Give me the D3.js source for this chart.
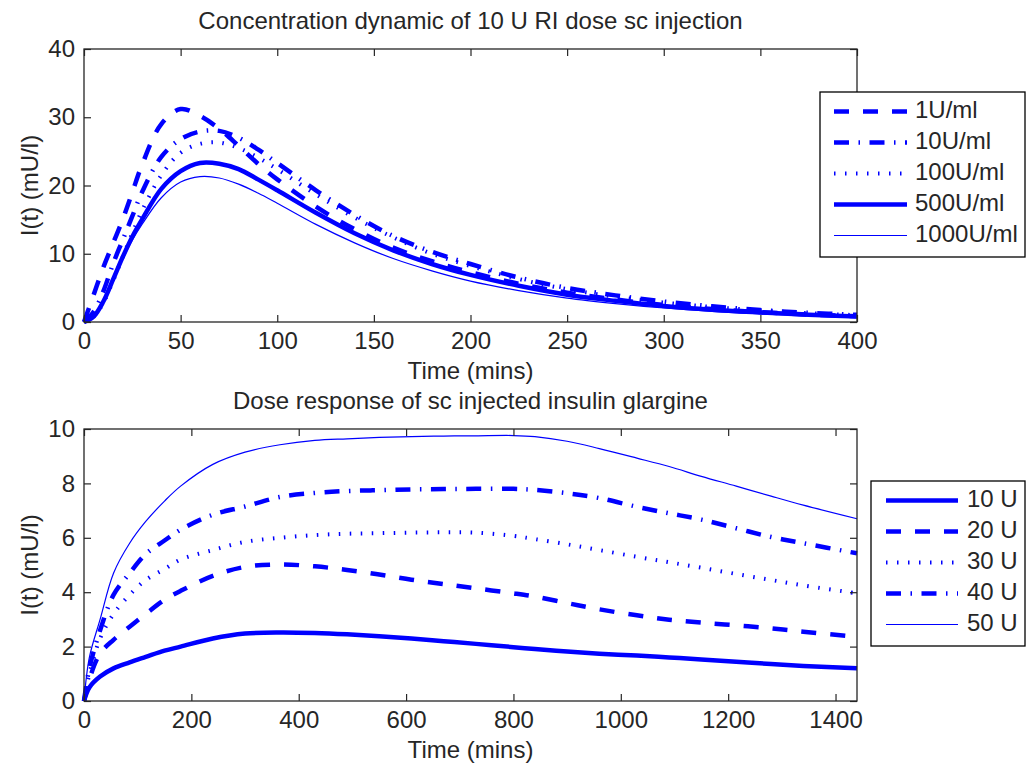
<!DOCTYPE html>
<html>
<head>
<meta charset="utf-8">
<script src="https://cdn.jsdelivr.net/npm/d3@7"></script>
<style>
  body { margin: 0; background: #fff; }
  text { font-family: "Liberation Sans", Arial, sans-serif; fill: #262626; }
</style>
</head>
<body>
<div id="chart"></div>
<script>
// top panel: 10 U regular insulin at different concentrations
const riTimes = [0, 5, 10, 15, 20, 25, 30, 40, 50, 60, 70, 80, 90, 100, 120, 140, 160, 180, 200, 225, 250, 275, 300, 325, 350, 375, 400];
const ri1 = [0, 4, 8, 11.5, 15, 19, 23, 29, 31.2, 30.2, 28.3, 25.8, 23.2, 20.9, 16.9, 13.6, 10.9, 8.9, 7.3, 5.6, 4.3, 3.3, 2.5, 1.9, 1.45, 1.1, 0.85];
const ri10 = [0, 1.5, 4.5, 8.5, 12, 15.5, 19, 24.2, 26.8, 27.9, 28.0, 27.0, 25.3, 23.3, 19.3, 15.7, 12.6, 10.3, 8.5, 6.5, 5.0, 3.9, 3.0, 2.3, 1.75, 1.35, 1.05];
const ri100 = [0, 0.8, 2.8, 6, 9.5, 13, 16.3, 21.5, 24.8, 26.1, 26.3, 25.5, 24.1, 22.4, 18.7, 15.3, 12.4, 10, 8.2, 6.3, 4.8, 3.7, 2.85, 2.2, 1.7, 1.3, 1.0];
const ri500 = [0, 0.8, 3, 6.2, 9.5, 12.5, 15, 19.5, 22.1, 23.3, 23.2, 22.4, 20.9, 19.3, 16, 13, 10.5, 8.5, 6.9, 5.3, 4.0, 3.1, 2.35, 1.8, 1.4, 1.05, 0.8];
const ri1000 = [0, 0.7, 2.8, 6, 9.2, 12, 14.3, 18.2, 20.5, 21.3, 21.1, 20.2, 18.9, 17.4, 14.3, 11.6, 9.3, 7.5, 6.0, 4.6, 3.5, 2.7, 2.05, 1.55, 1.2, 0.9, 0.7];
const riNames = ["1U/ml", "10U/ml", "100U/ml", "500U/ml", "1000U/ml"];
const riTicksX = [0, 50, 100, 150, 200, 250, 300, 350, 400];
const riTicksY = [0, 10, 20, 30, 40];

// bottom panel: glargine doses
const glTimes = [0, 10, 30, 55, 85, 115, 150, 180, 240, 300, 365, 430, 490, 550, 610, 670, 730, 800, 840, 900, 960, 1030, 1090, 1150, 1215, 1280, 1340, 1440];
const gl10 = [0, 0.5, 0.9, 1.2, 1.42, 1.62, 1.85, 2.0, 2.3, 2.48, 2.52, 2.5, 2.45, 2.38, 2.3, 2.2, 2.1, 1.98, 1.91, 1.82, 1.74, 1.67, 1.6, 1.53, 1.44, 1.36, 1.29, 1.2];
const gl20 = [0, 0.8, 1.75, 2.25, 2.73, 3.2, 3.72, 4.05, 4.6, 4.93, 5.02, 4.95, 4.82, 4.65, 4.46, 4.3, 4.14, 3.96, 3.84, 3.6, 3.37, 3.15, 2.99, 2.88, 2.78, 2.67, 2.55, 2.36];
const gl30 = [0, 1.0, 2.3, 3.2, 3.9, 4.45, 4.85, 5.2, 5.55, 5.85, 6.0, 6.1, 6.15, 6.17, 6.19, 6.2, 6.19, 6.07, 5.95, 5.76, 5.55, 5.3, 5.1, 4.9, 4.67, 4.45, 4.25, 3.96];
const gl40 = [0, 1.2, 2.6, 3.9, 4.7, 5.4, 5.9, 6.3, 6.85, 7.15, 7.5, 7.65, 7.72, 7.75, 7.78, 7.79, 7.8, 7.8, 7.76, 7.64, 7.46, 7.14, 6.9, 6.67, 6.35, 6.03, 5.8, 5.43];
const gl50 = [0, 1.6, 3.0, 4.7, 5.8, 6.6, 7.35, 7.9, 8.7, 9.15, 9.42, 9.58, 9.64, 9.69, 9.72, 9.74, 9.75, 9.76, 9.72, 9.55, 9.28, 8.93, 8.62, 8.26, 7.9, 7.53, 7.2, 6.7];
const glNames = ["10 U", "20 U", "30 U", "40 U", "50 U"];
const glTicksX = [0, 200, 400, 600, 800, 1000, 1200, 1400];
const glTicksY = [0, 2, 4, 6, 8, 10];

const width = 1027, height = 768;
const blue = "#0000ff";
const fs = 24;

// line styles
const styles = {
    dash:    {w: 4.5, dash: "15,14"},
    dashdot: {w: 4.5, dash: "15,9.5,1.5,9.5"},
    dot:     {w: 4,   dash: "1.5,9.5"},
    solid:   {w: 4.5, dash: null},
    thin:    {w: 1.2, dash: null}
};

const svg = d3.select("#chart")
    .append("svg")
    .attr("width", width)
    .attr("height", height)
    .attr("viewBox", [0, 0, width, height]);

function panel(opts) {
    const {left, right, top, bottom, xDomain, yDomain, xTicks, yTicks, times, series, title, legend} = opts;

    const x = d3.scaleLinear().domain(xDomain).range([left, right]);
    const y = d3.scaleLinear().domain(yDomain).range([bottom, top]);

    const g = svg.append("g");

    // curves
    const line = d3.line()
        .x((d, i) => x(times[i]))
        .y(d => y(d))
        .curve(d3.curveCatmullRom.alpha(0.5));

    for (let s of series) {
        const st = styles[s.style];
        g.append("path")
            .datum(s.values)
            .attr("fill", "none")
            .attr("stroke", blue)
            .attr("stroke-width", st.w)
            .attr("stroke-dasharray", st.dash)
            .attr("d", line);
    }

    // axes, ticks pointing inward
    const fmt = d3.format("d");
    g.append("g")
        .attr("transform", `translate(0,${bottom})`)
        .call(d3.axisBottom(x).tickValues(xTicks).tickFormat(fmt).tickSizeInner(-7).tickSizeOuter(0).tickPadding(10));
    g.append("g")
        .attr("transform", `translate(0,${top})`)
        .call(d3.axisTop(x).tickValues(xTicks).tickSizeInner(-7).tickSizeOuter(0).tickFormat(""));
    g.append("g")
        .attr("transform", `translate(${left},0)`)
        .call(d3.axisLeft(y).tickValues(yTicks).tickFormat(fmt).tickSizeInner(-7).tickSizeOuter(0).tickPadding(9));
    g.append("g")
        .attr("transform", `translate(${right},0)`)
        .call(d3.axisRight(y).tickValues(yTicks).tickSizeInner(-7).tickSizeOuter(0).tickFormat(""));

    g.selectAll(".domain").remove();
    g.selectAll(".tick line").attr("stroke", "#262626").attr("stroke-width", 1.2);
    g.selectAll(".tick text")
        .style("font-size", fs + "px")
        .attr("fill", "#262626");

    g.append("rect")
        .attr("x", left).attr("y", top)
        .attr("width", right - left).attr("height", bottom - top)
        .attr("fill", "none")
        .attr("stroke", "#262626")
        .attr("stroke-width", 1.3);

    g.append("text")
        .attr("x", (left + right) / 2)
        .attr("y", top - 26)
        .attr("text-anchor", "middle")
        .attr("dominant-baseline", "middle")
        .style("font-size", fs + "px")
        .text(title);

    g.append("text")
        .attr("x", (left + right) / 2)
        .attr("y", bottom + 51)
        .attr("text-anchor", "middle")
        .attr("dominant-baseline", "middle")
        .style("font-size", fs + "px")
        .text("Time (mins)");

    g.append("text")
        .attr("transform", `translate(32,${(top + bottom) / 2}) rotate(-90)`)
        .attr("text-anchor", "middle")
        .attr("dominant-baseline", "middle")
        .style("font-size", fs + "px")
        .text("I(t) (mU/l)");

    // legend
    const lg = g.append("g");
    lg.append("rect")
        .attr("x", legend.x).attr("y", legend.y)
        .attr("width", legend.w).attr("height", legend.h)
        .attr("fill", "#fff")
        .attr("stroke", "#000")
        .attr("stroke-width", 1.3);

    series.forEach((s, i) => {
        const st = styles[s.style];
        const cy = legend.y + 19.5 + i * 31;
        lg.append("line")
            .attr("x1", legend.x + legend.lx0).attr("x2", legend.x + legend.lx1)
            .attr("y1", cy).attr("y2", cy)
            .attr("stroke", blue)
            .attr("stroke-width", st.w)
            .attr("stroke-dasharray", st.dash);
        lg.append("text")
            .attr("x", legend.x + legend.tx)
            .attr("y", cy)
            .attr("dominant-baseline", "middle")
            .style("font-size", fs + "px")
            .text(s.name);
    });
}

panel({
    left: 84, right: 857, top: 49, bottom: 322,
    xDomain: [0, 400], yDomain: [0, 40],
    xTicks: riTicksX, yTicks: riTicksY,
    times: riTimes,
    series: [
        {name: riNames[0], values: ri1, style: "dash"},
        {name: riNames[1], values: ri10, style: "dashdot"},
        {name: riNames[2], values: ri100, style: "dot"},
        {name: riNames[3], values: ri500, style: "solid"},
        {name: riNames[4], values: ri1000, style: "thin"}
    ],
    title: "Concentration dynamic of 10 U RI dose sc injection",
    legend: {x: 820, y: 92, w: 205, h: 165, lx0: 14, lx1: 87, tx: 95}
});

panel({
    left: 84, right: 857, top: 429, bottom: 701,
    xDomain: [0, 1440], yDomain: [0, 10],
    xTicks: glTicksX, yTicks: glTicksY,
    times: glTimes,
    series: [
        {name: glNames[0], values: gl10, style: "solid"},
        {name: glNames[1], values: gl20, style: "dash"},
        {name: glNames[2], values: gl30, style: "dot"},
        {name: glNames[3], values: gl40, style: "dashdot"},
        {name: glNames[4], values: gl50, style: "thin"}
    ],
    title: "Dose response of sc injected insulin glargine",
    legend: {x: 871, y: 481, w: 154, h: 165, lx0: 15, lx1: 87, tx: 96}
});
</script>
</body>
</html>
